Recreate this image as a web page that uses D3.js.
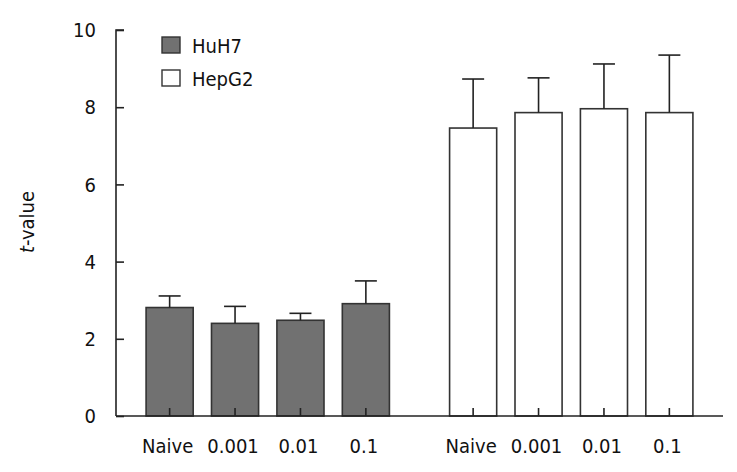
<!DOCTYPE html>
<html>
<head>
<meta charset="utf-8">
<script src="https://cdn.jsdelivr.net/npm/d3@7"></script>
<style>
  body { margin: 0; background: #fff; }
  text { font-family: "DejaVu Sans Condensed", "DejaVu Sans", sans-serif; font-stretch: condensed; fill: #111; }
</style>
</head>
<body>
<div id="chart"></div>
<script>
var lines = ["HuH7", "HepG2"];
var doses = ["Naive", "0.001", "0.01", "0.1"];
var huh7_vals = [2.81, 2.40, 2.48, 2.91];
var huh7_err = [0.30, 0.44, 0.18, 0.59];
var hepg2_vals = [7.46, 7.86, 7.96, 7.86];
var hepg2_err = [1.27, 0.90, 1.16, 1.49];
var y_ticks = [0, 2, 4, 6, 8, 10];
var fills = ["#717171", "#ffffff"];

var width = 737, height = 472;
var margin = {top: 30, right: 14, bottom: 56, left: 116};
var inner_w = width - margin.left - margin.right,
	inner_h = height - margin.top - margin.bottom;

var svg = d3.select("#chart").append("svg")
		.attr("width", width)
		.attr("height", height);

var g = svg.append("g")
		.attr("transform", "translate(" + margin.left + "," + margin.top + ")");

var data = [];
lines.forEach(function(line, i){
	var vals = i == 0 ? huh7_vals : hepg2_vals,
		errs = i == 0 ? huh7_err : hepg2_err;
	doses.forEach(function(dose, j){
		data.push({line: line, dose: dose, value: vals[j], err: errs[j]});
	});
});

var x_group = d3.scaleBand()
		.domain(lines)
		.range([0, inner_w]);

var x_dose = d3.scaleBand()
		.domain(doses)
		.range([0, x_group.bandwidth()])
		.paddingInner(0.28)
		.paddingOuter(0.46);

var y = d3.scaleLinear()
		.domain([0, 10])
		.range([inner_h, 0]);

function barX(d){ return x_group(d.line) + x_dose(d.dose); }

// bars
g.selectAll(".bar")
		.data(data)
	.enter().append("rect")
		.attr("class", "bar")
		.attr("x", function(d){ return barX(d); })
		.attr("width", x_dose.bandwidth())
		.attr("y", function(d){ return y(d.value); })
		.attr("height", function(d){ return inner_h - y(d.value); })
		.attr("fill", function(d){ return fills[lines.indexOf(d.line)]; })
		.attr("stroke", "#333")
		.attr("stroke-width", 1.6);

// error bars, upper only
var cap = 11;
var err = g.selectAll(".err")
		.data(data)
	.enter().append("g")
		.attr("class", "err")
		.attr("stroke", "#222")
		.attr("stroke-width", 1.6);

err.append("line")
		.attr("x1", function(d){ return barX(d) + x_dose.bandwidth() / 2; })
		.attr("x2", function(d){ return barX(d) + x_dose.bandwidth() / 2; })
		.attr("y1", function(d){ return y(d.value); })
		.attr("y2", function(d){ return y(d.value + d.err); });

err.append("line")
		.attr("x1", function(d){ return barX(d) + x_dose.bandwidth() / 2 - cap; })
		.attr("x2", function(d){ return barX(d) + x_dose.bandwidth() / 2 + cap; })
		.attr("y1", function(d){ return y(d.value + d.err); })
		.attr("y2", function(d){ return y(d.value + d.err); });

// y axis, ticks on the inside
var y_axis = g.append("g")
		.call(d3.axisRight(y).tickValues(y_ticks).tickSize(8).tickFormat(""));
y_axis.select(".domain").attr("d", "M8," + y(10) + "H0V" + y(0));
y_axis.selectAll("line, path").attr("stroke", "#222").attr("stroke-width", 1.6);

g.selectAll(".ylab")
		.data(y_ticks)
	.enter().append("text")
		.attr("class", "ylab")
		.attr("x", -20)
		.attr("y", function(d){ return y(d); })
		.attr("dy", "0.36em")
		.attr("text-anchor", "end")
		.style("font-size", "20px")
		.text(function(d){ return d; });

// x axis
g.append("line")
		.attr("x1", 0)
		.attr("x2", inner_w)
		.attr("y1", inner_h)
		.attr("y2", inner_h)
		.attr("stroke", "#222")
		.attr("stroke-width", 1.6);

g.selectAll(".xtick")
		.data(data)
	.enter().append("line")
		.attr("class", "xtick")
		.attr("x1", function(d){ return barX(d) + x_dose.bandwidth() / 2; })
		.attr("x2", function(d){ return barX(d) + x_dose.bandwidth() / 2; })
		.attr("y1", inner_h)
		.attr("y2", inner_h - 8)
		.attr("stroke", "#222")
		.attr("stroke-width", 1.6);

g.selectAll(".xlab")
		.data(data)
	.enter().append("text")
		.attr("class", "xlab")
		.attr("x", function(d){ return barX(d) + x_dose.bandwidth() / 2 - 2; })
		.attr("y", inner_h + 37)
		.attr("text-anchor", "middle")
		.style("font-size", "20px")
		.text(function(d){ return d.dose; });

// y title
var ytitle = svg.append("text")
		.attr("transform", "translate(34,222) rotate(-90)")
		.attr("text-anchor", "middle")
		.style("font-size", "20px");
ytitle.append("tspan").style("font-style", "italic").text("t");
ytitle.append("tspan").text("-value");

// legend
var legend = svg.selectAll(".legend")
		.data(lines)
	.enter().append("g")
		.attr("class", "legend")
		.attr("transform", function(d, i){ return "translate(162," + (37 + i * 33) + ")"; });

legend.append("rect")
		.attr("width", 18)
		.attr("height", 16)
		.attr("fill", function(d, i){ return fills[i]; })
		.attr("stroke", "#333")
		.attr("stroke-width", 1.4);

legend.append("text")
		.attr("x", 30)
		.attr("y", 16)
		.style("font-size", "20px")
		.text(function(d){ return d; });
</script>
</body>
</html>
